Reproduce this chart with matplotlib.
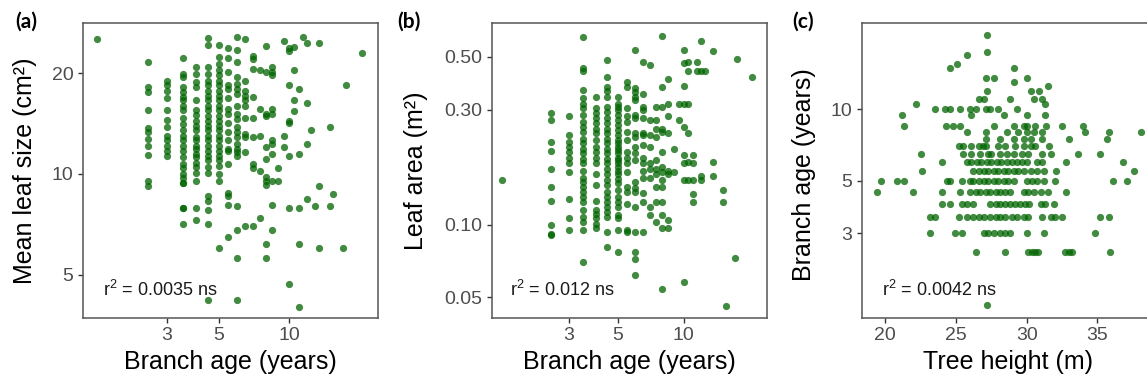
import matplotlib
matplotlib.use("Agg")
import matplotlib.pyplot as plt
from matplotlib.ticker import FixedLocator, NullLocator, FixedFormatter

plt.rcParams['font.family'] = ['Liberation Sans', 'DejaVu Sans']

# ---- panel (a): branch age vs mean leaf size (grouped by branch age) ----
a_age = [1.5, 2.5, 3.0, 3.5, 4.0, 4.5, 5.0, 5.5, 6.0, 6.5, 7.0, 7.5, 8.0, 8.5,
         9.0, 9.5, 10.0, 10.5, 11.0, 11.5, 12.0, 12.5, 13.0, 13.5, 15.0, 15.5,
         17.0, 17.5, 20.5]
a_size = [
    [25.3],
    [21.6, 18.2, 17.5, 15.5, 13.7, 13.3, 12.7, 12.1, 11.4, 9.5, 9.2],
    [19.0, 18.4, 17.7, 16.9, 15.5, 14.5, 13.8, 13.0, 12.6, 12.1, 11.7, 11.3],
    [22.2, 19.9, 19.4, 18.2, 17.5, 17.0, 16.6, 16.0, 15.5, 14.7, 14.1, 13.5,
     13.0, 12.6, 12.1, 11.7, 11.2, 10.7, 10.4, 10.0, 9.7, 9.4, 9.4, 7.9, 7.9, 7.1],
    [20.8, 19.9, 18.8, 18.2, 16.6, 15.5, 15.0, 14.4, 13.9, 13.5, 12.9, 12.6,
     12.1, 11.9, 11.5, 11.2, 10.8, 10.5, 10.1, 9.5, 7.9, 7.3],
    [25.4, 24.2, 20.8, 19.9, 19.0, 18.4, 17.7, 17.1, 16.6, 16.0, 15.5, 14.9,
     14.4, 13.9, 13.5, 13.0, 12.6, 12.1, 11.7, 11.3, 11.0, 10.5, 10.1, 8.6,
     8.3, 7.8, 7.1, 4.2],
    [24.2, 22.3, 21.3, 20.4, 19.7, 19.0, 18.4, 17.7, 17.1, 16.6, 16.0, 15.5,
     14.9, 14.4, 13.9, 13.5, 13.0, 12.6, 12.1, 11.7, 11.3, 11.0, 10.6, 10.0,
     9.5, 6.0],
    [23.7, 22.1, 20.1, 18.4, 17.9, 16.9, 15.6, 15.1, 14.2, 13.3, 12.6, 11.9,
     11.7, 10.7, 8.8, 8.6, 8.1, 6.5],
    [25.6, 23.4, 21.6, 19.5, 18.6, 17.9, 17.3, 15.9, 15.1, 14.6, 13.8, 13.3,
     12.9, 12.3, 11.9, 11.6, 11.3, 8.0, 6.8, 5.6, 4.2],
    [25.3, 19.0, 17.7, 17.1, 16.6, 16.0, 14.7, 13.2, 12.9, 11.6, 7.0],
    [22.5, 22.0, 20.5, 17.0, 14.7, 12.9, 10.7, 10.4, 7.0],
    [20.4, 15.6, 13.0, 10.2, 7.4],
    [24.1, 20.2, 15.1, 14.9, 12.0, 11.1, 9.8, 9.5, 9.3, 6.2, 5.6],
    [20.8, 20.2, 19.7, 15.6, 15.1, 12.6, 12.3, 11.5, 9.5, 8.1, 6.8],
    [10.4, 9.5],
    [25.0, 13.0, 12.0],
    [23.7, 23.2, 18.4, 14.4, 14.2, 11.3, 7.9, 4.7],
    [23.9, 20.4, 16.6, 15.4],
    [17.9, 11.5, 7.9, 6.2, 4.0],
    [25.7],
    [24.5, 16.3, 12.3, 8.4],
    [13.5],
    [8.0],
    [24.6, 9.2, 6.0],
    [13.8, 8.0],
    [8.7],
    [6.0],
    [18.4],
    [22.9],
]

# ---- panel (b): branch age vs leaf area ----
b_age = [1.5, 2.5, 3.0, 3.5, 4.0, 4.5, 5.0, 5.5, 6.0, 6.5, 7.0, 7.5, 8.0, 8.5,
         9.0, 9.5, 10.0, 10.5, 11.0, 11.5, 12.0, 12.5, 13.5, 15.0, 15.5, 17.0,
         17.5, 20.5]
b_area = [
    [0.153],
    [0.290, 0.272, 0.221, 0.203, 0.171, 0.144, 0.126, 0.100, 0.092, 0.091],
    [0.282, 0.236, 0.221, 0.210, 0.200, 0.190, 0.180, 0.166, 0.128, 0.107, 0.095],
    [0.605, 0.448, 0.436, 0.363, 0.335, 0.316, 0.305, 0.286, 0.268, 0.255,
     0.243, 0.228, 0.218, 0.207, 0.198, 0.188, 0.180, 0.168, 0.157, 0.150,
     0.144, 0.137, 0.130, 0.124, 0.115, 0.108, 0.103, 0.095, 0.070],
    [0.339, 0.305, 0.290, 0.277, 0.264, 0.251, 0.240, 0.224, 0.210, 0.200,
     0.190, 0.180, 0.163, 0.147, 0.126, 0.115, 0.111, 0.107, 0.101, 0.097],
    [0.482, 0.413, 0.375, 0.360, 0.341, 0.309, 0.295, 0.277, 0.264, 0.251,
     0.240, 0.228, 0.218, 0.207, 0.198, 0.188, 0.180, 0.171, 0.163, 0.153,
     0.147, 0.137, 0.130, 0.124, 0.119, 0.113, 0.108, 0.093, 0.081],
    [0.339, 0.316, 0.309, 0.300, 0.286, 0.272, 0.259, 0.247, 0.236, 0.224,
     0.218, 0.210, 0.204, 0.198, 0.190, 0.185, 0.180, 0.173, 0.168, 0.163,
     0.155, 0.149, 0.140, 0.130, 0.124, 0.119, 0.110, 0.107, 0.095, 0.077],
    [0.393, 0.375, 0.305, 0.282, 0.268, 0.243, 0.224, 0.200, 0.190, 0.180,
     0.166, 0.144, 0.137, 0.122, 0.095, 0.093],
    [0.530, 0.369, 0.357, 0.341, 0.330, 0.286, 0.277, 0.240, 0.232, 0.210,
     0.198, 0.185, 0.150, 0.142, 0.137, 0.119, 0.093, 0.077, 0.072, 0.062],
    [0.474, 0.350, 0.309, 0.300, 0.277, 0.240, 0.236, 0.214, 0.190, 0.180,
     0.168, 0.157, 0.135, 0.124, 0.093],
    [0.459, 0.272, 0.236, 0.210, 0.180, 0.171, 0.157, 0.119, 0.110],
    [0.309, 0.272, 0.251, 0.232, 0.185, 0.171, 0.163, 0.144, 0.124, 0.103],
    [0.607, 0.375, 0.309, 0.251, 0.243, 0.200, 0.173, 0.166, 0.153, 0.144,
     0.124, 0.110, 0.097, 0.054],
    [0.404, 0.318, 0.282, 0.240, 0.168, 0.163, 0.105, 0.097],
    [0.207, 0.166],
    [0.316, 0.272],
    [0.533, 0.469, 0.377, 0.316, 0.255, 0.195, 0.180, 0.153, 0.058],
    [0.475, 0.435, 0.316, 0.240, 0.183, 0.153],
    [0.195, 0.180, 0.153, 0.134, 0.124],
    [0.475, 0.435],
    [0.578, 0.435, 0.160, 0.153],
    [0.435],
    [0.526, 0.183, 0.160],
    [0.140, 0.124],
    [0.046],
    [0.073],
    [0.490],
    [0.413],
]

# ---- panel (c): tree height vs branch age (grouped by branch age) ----
c_age = [1.5, 2.5, 3.0, 3.5, 4.0, 4.5, 5.0, 5.5, 6.0, 6.5, 7.0, 7.5, 8.0, 8.5,
         9.5, 10.0, 10.5, 11.0, 12.0, 12.5, 13.0, 13.5, 15.0, 15.5, 17.0, 17.5,
         20.5]
c_height = [
    [27.2],
    [26.4, 28.5, 30.1, 30.4, 30.6, 30.8, 32.7, 33.0, 33.2, 35.9],
    [23.2, 24.9, 25.4, 27.0, 27.3, 27.7, 28.1, 28.5, 28.8, 30.0, 31.2, 34.8],
    [23.2, 23.5, 25.2, 25.8, 26.2, 26.6, 27.0, 27.4, 27.8, 28.1, 28.5, 29.0,
     29.3, 29.8, 30.1, 31.1, 31.7, 32.0, 32.5, 35.2, 35.8],
    [24.0, 24.6, 25.4, 25.8, 26.2, 27.4, 27.8, 28.1, 28.5, 28.8, 29.2, 29.5,
     29.9, 30.2, 31.0, 31.3, 31.9],
    [19.4, 22.0, 24.0, 25.3, 26.0, 26.4, 26.7, 27.1, 27.4, 27.8, 28.1, 28.5,
     28.8, 29.8, 30.1, 30.5, 31.0, 31.5, 32.8],
    [19.7, 20.8, 21.3, 24.4, 24.6, 25.4, 26.0, 26.2, 26.6, 27.0, 27.3, 27.7,
     28.0, 28.4, 28.7, 29.1, 30.0, 30.4, 30.7, 31.2, 32.0, 36.1, 37.1],
    [22.6, 26.2, 26.6, 27.0, 27.3, 27.7, 28.0, 28.4, 28.7, 29.1, 29.4, 29.8,
     30.3, 30.7, 31.2, 32.1, 37.6],
    [24.0, 25.8, 26.1, 26.5, 26.8, 27.2, 27.5, 27.9, 28.2, 28.6, 29.0, 29.3,
     29.7, 30.0, 30.7, 31.1, 32.8, 36.8],
    [22.5, 25.5, 26.1, 26.7, 27.3, 27.5, 28.1, 28.6, 29.1, 29.7, 30.1, 31.1,
     31.7, 33.6, 35.2],
    [25.2, 25.5, 26.1, 26.6, 26.9, 27.1, 28.0, 28.5, 29.2, 29.8, 30.3, 30.6, 31.6],
    [27.1, 28.1, 29.1, 29.8, 30.3, 31.1, 33.0, 35.7],
    [25.8, 27.1, 28.6, 29.4, 30.0, 30.5, 31.1, 34.1, 35.8, 38.1],
    [21.3, 24.3, 24.8, 25.3, 27.7, 29.1, 29.8, 30.0, 30.6, 31.4, 32.5, 34.0],
    [21.2, 26.1, 28.4, 30.0, 31.3],
    [23.5, 24.2, 24.6, 25.3, 26.0, 26.4, 27.1, 27.4, 28.0, 29.3],
    [22.2, 31.3],
    [26.6, 27.0, 28.8, 30.5, 31.1],
    [27.2, 30.3, 30.9],
    [31.5],
    [29.1],
    [27.1, 27.7, 30.0],
    [24.6, 29.1],
    [25.1],
    [25.8],
    [27.2],
    [27.2],
]

r2_labels = [r"r$^{\mathregular{2}}$ = 0.0035 ns",
             r"r$^{\mathregular{2}}$ = 0.012 ns",
             r"r$^{\mathregular{2}}$ = 0.0042 ns"]
panel_letters = ["(a)", "(b)", "(c)"]


def flatten(groups, values):
    xs, ys = [], []
    for g, vals in zip(groups, values):
        for v in vals:
            xs.append(g)
            ys.append(v)
    return xs, ys


W, H = 1147, 387
fig = plt.figure(figsize=(W / 100, H / 100), dpi=100)


def box(left, right, top=23, bottom=318):
    return [left / W, 1 - bottom / H, (right - left) / W, (bottom - top) / H]


ax_a = fig.add_axes(box(83, 378))
ax_b = fig.add_axes(box(491.7, 766.7))
ax_c = fig.add_axes(box(862, 1154.5))

pt_col = '#006400'
tick_col = '#4D4D4D'
edge_col = '#555555'

xa, ya = flatten(a_age, a_size)
ax_a.scatter(xa, ya, s=27, color=pt_col, alpha=0.75, linewidths=0)
xb, yb = flatten(b_age, b_area)
ax_b.scatter(xb, yb, s=27, color=pt_col, alpha=0.75, linewidths=0)
yc, xc = flatten(c_age, c_height)
ax_c.scatter(xc, yc, s=27, color=pt_col, alpha=0.75, linewidths=0)

# scales
ax_a.set_xscale('log'); ax_a.set_yscale('log')
ax_a.set_xlim(1.31, 24.1); ax_a.set_ylim(3.72, 28.2)
ax_b.set_xscale('log'); ax_b.set_yscale('log')
ax_b.set_xlim(1.34, 23.8); ax_b.set_ylim(0.041, 0.689)
ax_c.set_yscale('log')
ax_c.set_xlim(18.36, 39.04); ax_c.set_ylim(1.32, 23.1)

def set_ticks(axis, vals, labels):
    axis.set_major_locator(FixedLocator(vals))
    axis.set_major_formatter(FixedFormatter(labels))
    axis.set_minor_locator(NullLocator())

set_ticks(ax_a.xaxis, [3, 5, 10], ['3', '5', '10'])
set_ticks(ax_a.yaxis, [5, 10, 20], ['5', '10', '20'])
set_ticks(ax_b.xaxis, [3, 5, 10], ['3', '5', '10'])
set_ticks(ax_b.yaxis, [0.05, 0.10, 0.30, 0.50], ['0.05', '0.10', '0.30', '0.50'])
set_ticks(ax_c.xaxis, [20, 25, 30, 35], ['20', '25', '30', '35'])
set_ticks(ax_c.yaxis, [3, 5, 10], ['3', '5', '10'])

for ax, r2 in zip([ax_a, ax_b, ax_c], r2_labels):
    for sp in ax.spines.values():
        sp.set_color(edge_col)
        sp.set_linewidth(1.1)
    ax.tick_params(length=3.8, width=1.0, color='#333333', labelcolor=tick_col,
                   labelsize=14, pad=3)
    ax.text(0.068, 0.095, r2, transform=ax.transAxes, fontsize=13,
            ha='left', va='center', color='#1a1a1a')

# axis titles
fig.text(25 / W, 1 - 171 / H, 'Mean leaf size (cm²)', rotation=90,
         ha='center', va='center', fontsize=18)
fig.text(416 / W, 1 - 171 / H, 'Leaf area (m²)', rotation=90,
         ha='center', va='center', fontsize=18)
fig.text(804 / W, 1 - 175 / H, 'Branch age (years)', rotation=90,
         ha='center', va='center', fontsize=18)
fig.text(230 / W, 1 - 362 / H, 'Branch age (years)', ha='center', va='center',
         fontsize=18)
fig.text(629 / W, 1 - 362 / H, 'Branch age (years)', ha='center', va='center',
         fontsize=18)
fig.text(1008 / W, 1 - 362 / H, 'Tree height (m)', ha='center', va='center',
         fontsize=18)

# panel letters
for xpos, lab in zip([15, 397, 792], panel_letters):
    fig.text(xpos / W, 1 - 22 / H, lab, ha='left', va='center', fontsize=15,
             fontweight='bold', family=['Lato', 'DejaVu Sans'])

fig.savefig('out.png', dpi=100)
